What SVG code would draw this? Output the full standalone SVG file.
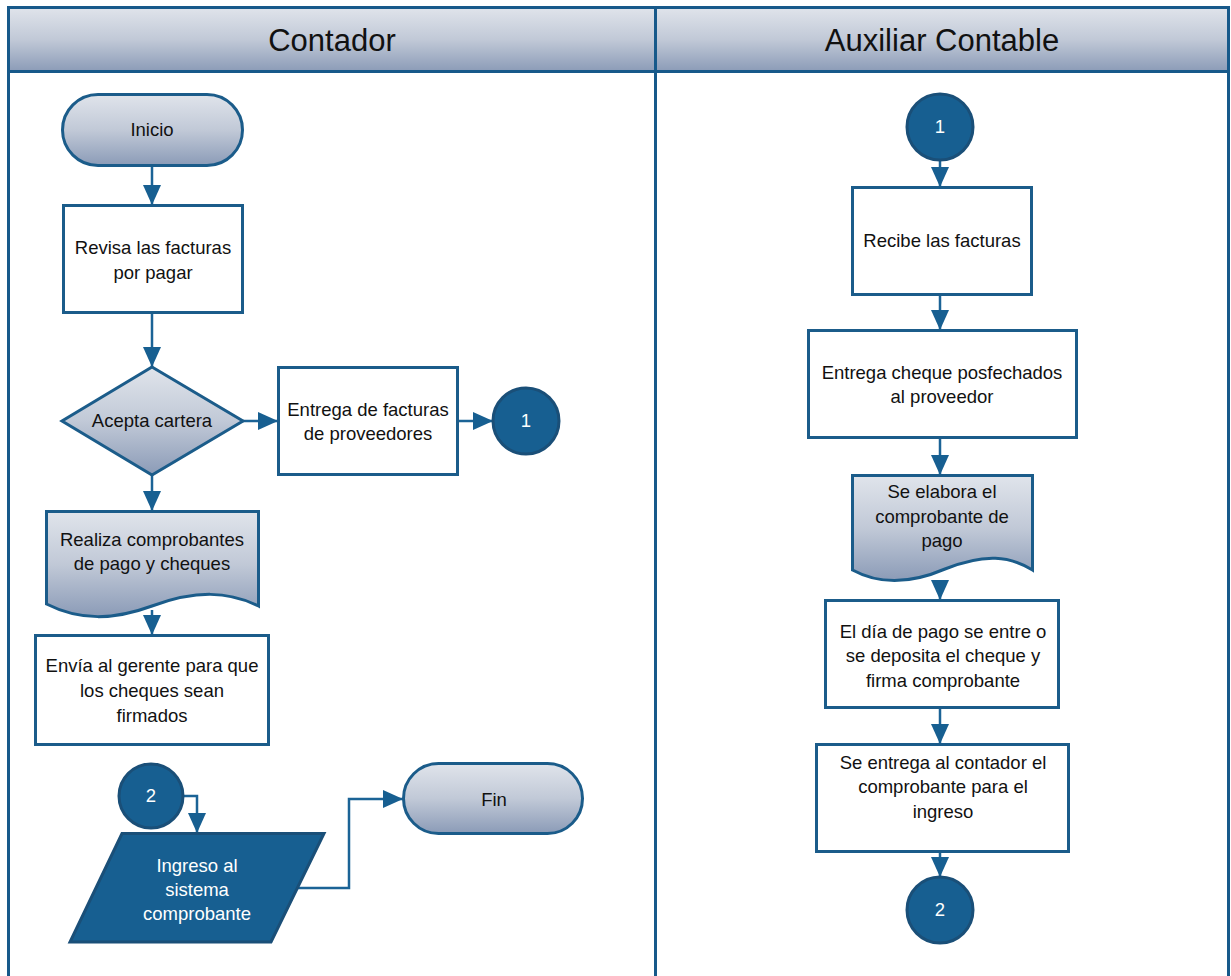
<svg xmlns="http://www.w3.org/2000/svg" width="1231" height="976" viewBox="0 0 1231 976">
  <defs>
    <linearGradient id="gShade" x1="0" y1="0" x2="0" y2="1">
      <stop offset="0" stop-color="#e0e4eb"/>
      <stop offset="0.5" stop-color="#c1c9d7"/>
      <stop offset="1" stop-color="#8b9bb7"/>
    </linearGradient>
    <marker id="arrow" viewBox="0 0 20 18" refX="20" refY="9" markerWidth="20" markerHeight="18" markerUnits="userSpaceOnUse" orient="auto">
      <path d="M0,0 L20,9 L0,18 Z" fill="#175f91"/>
    </marker>
    <style>
      .lane { fill: #ffffff; stroke: #17598a; stroke-width: 3; }
      .head { fill: url(#gShade); stroke: #17598a; stroke-width: 3; }
      .box { fill: #ffffff; stroke: #1b5c8a; stroke-width: 3; }
      .shade { fill: url(#gShade); stroke: #1b5c8a; stroke-width: 3; }
      .dark { fill: #175f91; stroke: #1a4f78; stroke-width: 3; }
      .conn { fill: none; stroke: #1b6396; stroke-width: 2.5; marker-end: url(#arrow); }
      text { font-family: "Liberation Sans", Arial, sans-serif; font-size: 18.5px; fill: #111111; text-anchor: middle; }
      .title { font-size: 31px; }
      .light { fill: #ffffff; }
    </style>
  </defs>

  <!-- swimlanes -->
  <g id="lanes">
    <rect class="lane" x="8.5" y="7.5" width="647" height="970"/>
    <rect class="lane" x="655.5" y="7.5" width="573" height="970"/>
    <rect class="head" x="8.5" y="7.5" width="647" height="64"/>
    <rect class="head" x="655.5" y="7.5" width="573" height="64"/>
    <text class="title" x="332" y="51">Contador</text>
    <text class="title" x="942" y="51">Auxiliar Contable</text>
  </g>

  <!-- connectors -->
  <g id="connectors">
    <line class="conn" x1="152" y1="166" x2="152" y2="205"/>
    <line class="conn" x1="152" y1="313" x2="152" y2="367"/>
    <line class="conn" x1="243" y1="421" x2="278" y2="421"/>
    <line class="conn" x1="458" y1="421" x2="493" y2="421"/>
    <line class="conn" x1="152" y1="475" x2="152" y2="511"/>
    <line class="conn" x1="152" y1="610" x2="152" y2="635"/>
    <polyline class="conn" points="183,796 197,796 197,833"/>
    <polyline class="conn" points="291,888 349,888 349,799 403,799"/>
    <line class="conn" x1="940" y1="160" x2="940" y2="187"/>
    <line class="conn" x1="940" y1="295" x2="940" y2="330"/>
    <line class="conn" x1="940" y1="438" x2="940" y2="475"/>
    <line class="conn" x1="940" y1="580" x2="940" y2="600"/>
    <line class="conn" x1="940" y1="708" x2="940" y2="744"/>
    <line class="conn" x1="940" y1="852" x2="940" y2="877"/>
  </g>

  <!-- Contador lane -->
  <g id="inicio">
    <rect class="shade" x="62.5" y="94.5" width="180" height="71" rx="35.5"/>
    <text x="152" y="136">Inicio</text>
  </g>
  <g id="revisa">
    <rect class="box" x="63.5" y="205.5" width="179" height="107"/>
    <text x="153" y="254">Revisa las facturas</text>
    <text x="153" y="279">por pagar</text>
  </g>
  <g id="acepta">
    <polygon class="shade" points="152,367 243,421 152,475 62,421"/>
    <text x="152" y="427">Acepta cartera</text>
  </g>
  <g id="entrega-facturas">
    <rect class="box" x="278.5" y="367.5" width="179" height="107"/>
    <text x="368" y="416">Entrega de facturas</text>
    <text x="368" y="440">de proveedores</text>
  </g>
  <g id="conector-1-salida">
    <circle class="dark" cx="526" cy="421" r="33"/>
    <text class="light" x="526" y="427">1</text>
  </g>
  <g id="realiza">
    <path class="shade" d="M46.5,511.5 H258.5 V606 C228,591 196,590 152,606 C114,620 80,621 46.5,604 Z"/>
    <text x="152" y="546">Realiza comprobantes</text>
    <text x="152" y="570">de pago y cheques</text>
  </g>
  <g id="envia">
    <rect class="box" x="35.5" y="635.5" width="233" height="109"/>
    <text x="152" y="672">Envía al gerente para que</text>
    <text x="152" y="697">los cheques sean</text>
    <text x="152" y="722">firmados</text>
  </g>
  <g id="conector-2-entrada">
    <circle class="dark" cx="151" cy="796" r="32"/>
    <text class="light" x="151" y="802">2</text>
  </g>
  <g id="ingreso">
    <polygon class="dark" points="122,833.5 324,833.5 271,942 70,942"/>
    <text class="light" x="197" y="872">Ingreso al</text>
    <text class="light" x="197" y="896">sistema</text>
    <text class="light" x="197" y="920">comprobante</text>
  </g>
  <g id="fin">
    <rect class="shade" x="403.5" y="763.5" width="179" height="70" rx="35"/>
    <text x="494" y="806">Fin</text>
  </g>

  <!-- Auxiliar Contable lane -->
  <g id="conector-1-entrada">
    <circle class="dark" cx="940" cy="127" r="33"/>
    <text class="light" x="940" y="133">1</text>
  </g>
  <g id="recibe">
    <rect class="box" x="852.5" y="187.5" width="179" height="107"/>
    <text x="942" y="247">Recibe las facturas</text>
  </g>
  <g id="entrega-cheque">
    <rect class="box" x="808.5" y="330.5" width="268" height="107"/>
    <text x="942" y="379">Entrega cheque posfechados</text>
    <text x="942" y="403">al proveedor</text>
  </g>
  <g id="elabora">
    <path class="shade" d="M852.5,475.5 H1032.5 V570 C1010,556 985,553 945,569 C910,584 880,585 852.5,570 Z"/>
    <text x="942" y="498">Se elabora el</text>
    <text x="942" y="523">comprobante de</text>
    <text x="942" y="547">pago</text>
  </g>
  <g id="dia-pago">
    <rect class="box" x="825.5" y="600.5" width="233" height="107"/>
    <text x="943" y="638">El día de pago se entre o</text>
    <text x="943" y="662">se deposita el cheque y</text>
    <text x="943" y="687">firma comprobante</text>
  </g>
  <g id="se-entrega">
    <rect class="box" x="816.5" y="744.5" width="252" height="107"/>
    <text x="943" y="769">Se entrega al contador el</text>
    <text x="943" y="793">comprobante para el</text>
    <text x="943" y="818">ingreso</text>
  </g>
  <g id="conector-2-salida">
    <circle class="dark" cx="940" cy="910" r="33"/>
    <text class="light" x="940" y="916">2</text>
  </g>
</svg>
